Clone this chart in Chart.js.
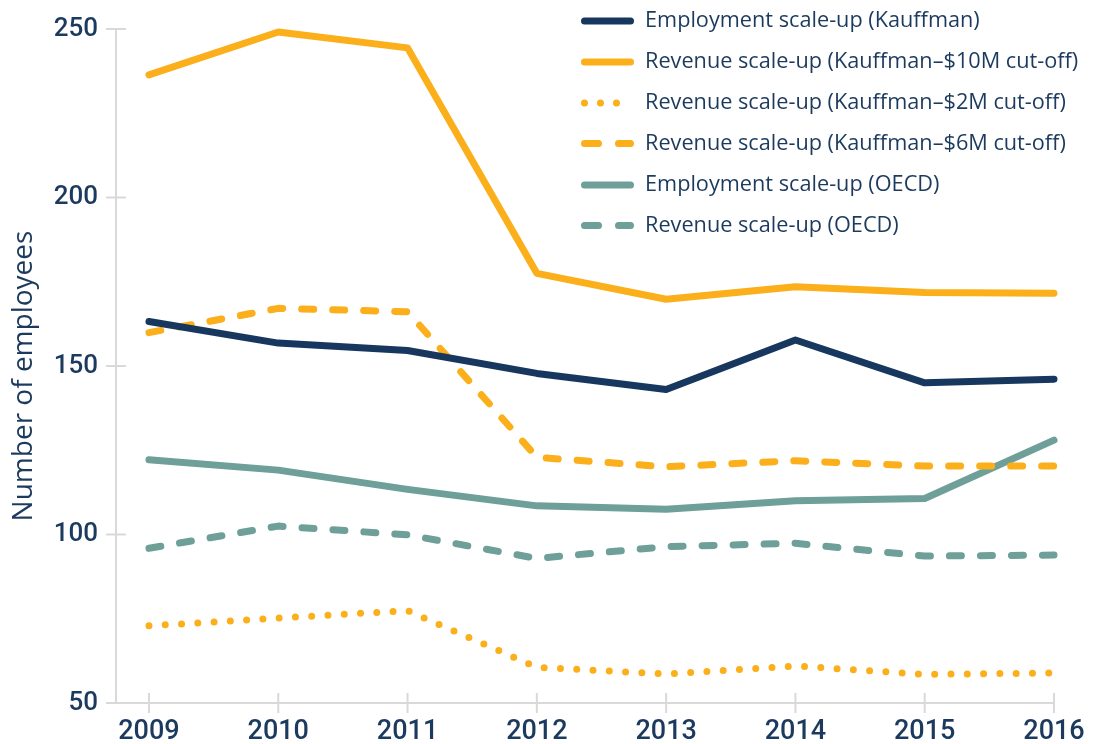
<!DOCTYPE html>
<html>
<head>
<meta charset="utf-8">
<script src="https://cdn.jsdelivr.net/npm/chart.js@4"></script>
<style>
  html, body { margin: 0; padding: 0; background: #fff; }
  #wrap { width: 1113px; height: 744px; }
</style>
</head>
<body>
<div id="wrap"><canvas id="chart" width="1113" height="744"></canvas></div>
<script>
const years = [2009, 2010, 2011, 2012, 2013, 2014, 2015, 2016];

const empKauffman = [163.2, 156.8, 154.6, 147.8, 143.0, 157.7, 145.0, 146.1];
const rev10M = [236.4, 249.1, 244.4, 177.5, 169.8, 173.5, 171.8, 171.6];
const rev2M = [72.9, 75.2, 77.4, 60.6, 58.6, 61.0, 58.5, 58.9];
const rev6M = [159.9, 167.1, 166.1, 122.9, 120.1, 121.9, 120.3, 120.3];
const empOECD = [122.2, 119.1, 113.4, 108.5, 107.5, 110.0, 110.7, 128.0];
const revOECD = [95.9, 102.5, 99.9, 92.9, 96.4, 97.4, 93.6, 93.9];

const yTicks = [50, 100, 150, 200, 250];
const yTitle = "Number of employees";

const NAVY = "#17375e";
const ORANGE = "#fbaf1b";
const TEAL = "#6e9f98";
const TEXT = "#1c3a5e";
const AXIS = "#d9d9d9";

const $ = (id) => document.getElementById(id);

function series(label, values, color, dash, legendDash) {
  return {
    label,
    data: years.map((y, i) => ({ x: y, y: values[i] })),
    borderColor: color,
    backgroundColor: color,
    borderWidth: 7,
    borderDash: dash,
    borderCapStyle: "round",
    borderJoinStyle: "round",
    pointRadius: 0,
    pointHoverRadius: 0,
    tension: 0,
    clip: false,
    legendDash,
  };
}

// tick marks crossing the axis lines + the y title (sits a bit below centre)
const crossTicks = {
  id: "crossTicks",
  beforeDatasetsDraw(chart) {
    const { ctx, scales } = chart;
    const xs = scales.x, ys = scales.y;
    ctx.save();
    ctx.strokeStyle = AXIS;
    ctx.lineWidth = 2;
    ctx.beginPath();
    yTicks.forEach((v) => {
      const py = ys.getPixelForValue(v);
      ctx.moveTo(xs.left - 10, py);
      ctx.lineTo(xs.left + 10, py);
    });
    years.forEach((yr) => {
      const px = xs.getPixelForValue(yr);
      ctx.moveTo(px, ys.bottom - 10);
      ctx.lineTo(px, ys.bottom + 10);
    });
    ctx.stroke();

    ctx.translate(24, 376);
    ctx.rotate(-Math.PI / 2);
    ctx.font = "28px 'Open Sans'";
    ctx.fillStyle = TEXT;
    ctx.textAlign = "center";
    ctx.textBaseline = "middle";
    ctx.fillText(yTitle, 0, 0);
    ctx.restore();
  },
};

const lineLegend = {
  id: "lineLegend",
  afterDraw(chart) {
    const { ctx } = chart;
    const x0 = 584.5, x1 = 630.5, textX = 645;
    const rowY = [21, 62, 103, 143.5, 185, 225.5];
    ctx.save();
    ctx.font = "21.7px 'Open Sans'";
    ctx.textBaseline = "middle";
    ctx.textAlign = "left";
    chart.data.datasets.forEach((ds, i) => {
      const y = rowY[i];
      ctx.strokeStyle = ds.borderColor;
      ctx.lineWidth = 7;
      ctx.lineCap = "round";
      ctx.setLineDash(ds.legendDash || []);
      ctx.beginPath();
      ctx.moveTo(x0, y);
      ctx.lineTo(ds.legendDash && ds.legendDash[0] === 0 ? x1 + 2 : x1, y);
      ctx.stroke();
      ctx.setLineDash([]);
      ctx.fillStyle = TEXT;
      ctx.fillText(ds.label, textX, y);
    });
    ctx.restore();
  },
};

new Chart($("chart"), {
  type: "line",
  data: {
    datasets: [
      series("Employment scale-up (Kauffman)", empKauffman, NAVY, [], []),
      series("Revenue scale-up (Kauffman\u2013$10M cut-off)", rev10M, ORANGE, [], []),
      series("Revenue scale-up (Kauffman\u2013$2M cut-off)", rev2M, ORANGE, [0, 16.3], [0, 16]),
      series("Revenue scale-up (Kauffman\u2013$6M cut-off)", rev6M, ORANGE, [12, 19], [14, 20]),
      series("Employment scale-up (OECD)", empOECD, TEAL, [], []),
      series("Revenue scale-up (OECD)", revOECD, TEAL, [12, 19], [14, 20]),
    ],
  },
  options: {
    responsive: false,
    animation: false,
    events: [],
    layout: { padding: { top: 29, right: 59, bottom: 0, left: 0 } },
    plugins: {
      legend: { display: false },
      tooltip: { enabled: false },
    },
    scales: {
      x: {
        type: "linear",
        min: 2008.745,
        max: 2016,
        afterFit: (scale) => { scale.height = 41; },
        grid: { display: false },
        border: { display: true, color: AXIS, width: 2 },
        ticks: {
          stepSize: 1,
          includeBounds: false,
          color: TEXT,
          padding: 5,
          maxRotation: 0,
          font: { family: "Roboto", size: 27, weight: 500 },
          callback: (v) => String(v),
        },
      },
      y: {
        min: 50,
        max: 250,
        afterFit: (scale) => { scale.width = 116; },
        afterBuildTicks: (scale) => { scale.ticks = yTicks.map((v) => ({ value: v })); },
        grid: { display: false },
        border: { display: true, color: AXIS, width: 2 },
        ticks: {
          color: TEXT,
          padding: 10,
          font: { family: "Roboto", size: 26, weight: 500 },
        },
      },
    },
  },
  plugins: [crossTicks, lineLegend],
});
</script>
</body>
</html>
